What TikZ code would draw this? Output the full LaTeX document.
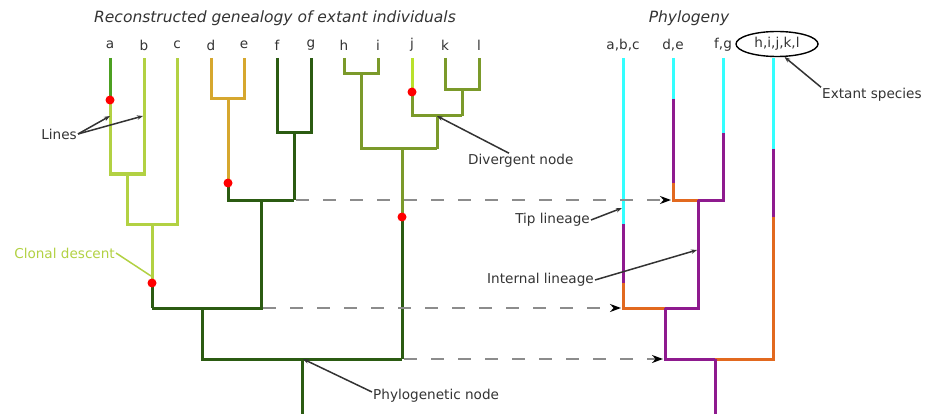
\documentclass[tikz,border=0pt]{standalone}
\usepackage{fontspec}
\setmainfont{DejaVu Sans}
\usepackage{xcolor}
\definecolor{tree-dark}{HTML}{2B5B12}
\definecolor{tree-mid}{HTML}{4CA021}
\definecolor{tree-light}{HTML}{B2D143}
\definecolor{tree-lime}{HTML}{B9E12C}
\definecolor{tree-gold}{HTML}{D6A72E}
\definecolor{tree-olive}{HTML}{7B9A2A}
\definecolor{phylo-cyan}{HTML}{33FFFF}
\definecolor{phylo-purple}{HTML}{8E1A8E}
\definecolor{phylo-orange}{HTML}{E2691F}
\definecolor{label-grey}{HTML}{333333}
\definecolor{guide-grey}{HTML}{8C8C8C}
\usepackage{tikz}
\usetikzlibrary{arrows.meta,shapes.geometric}

\begin{document}
\begin{tikzpicture}[x=1pt, y=-1pt,
    every node/.style={font=\fontsize{13.6}{16}\selectfont, text=label-grey, inner sep=1pt},
    branch/.style={line width=3pt, line join=miter},
    pointer/.style={line width=1.5pt, label-grey, -{Stealth[length=6pt, width=4.5pt]}},
    timeline/.style={guide-grey, line width=2pt, dash pattern=on 13pt off 14pt,
                     -{Stealth[length=11pt, width=8pt, black]}},
    mutation/.style={fill=red}]

    % Background
    \useasboundingbox (0, 0) rectangle (925, 414);

    % Titles
    \node[font=\fontsize{15.5}{18}\selectfont\itshape] (gentitle) at (275, 18) {Reconstructed genealogy of extant individuals};
    \node[font=\fontsize{15.5}{18}\selectfont\itshape] (phytitle) at (689, 18) {Phylogeny};

    % Individuals
    \foreach \name/\x in {a/110, b/144, c/177, d/211, e/244, f/277, g/311, h/344, i/378, j/412, k/445, l/479}
        \node (tip-\name) at (\x, 45) {\name};

    % a, b, c
    \draw[branch, tree-mid] (110, 58) -- (110, 100);
    \draw[branch, tree-light] (110, 100) -- (110, 174) -- (144, 174) -- (144, 58);
    \draw[branch, tree-light] (127, 174) -- (127, 224) -- (177, 224) -- (177, 58);
    \draw[branch, tree-light] (152, 224) -- (152, 283);
    \draw[branch, tree-dark] (152, 283) -- (152, 308);

    % d, e, f, g
    \draw[branch, tree-gold] (211, 58) -- (211, 99) -- (244, 99) -- (244, 58);
    \draw[branch, tree-gold] (228, 99) -- (228, 183);
    \draw[branch, tree-dark] (228, 183) -- (228, 200) -- (294, 200);
    \draw[branch, tree-dark] (277, 58) -- (277, 133) -- (311, 133) -- (311, 58);
    \draw[branch, tree-dark] (294, 133) -- (294, 200);
    \draw[branch, tree-dark] (261, 200) -- (261, 308) -- (152, 308);

    % h, i, j, k, l
    \draw[branch, tree-olive] (344, 58) -- (344, 74) -- (378, 74) -- (378, 58);
    \draw[branch, tree-olive] (361, 74) -- (361, 149) -- (437, 149);
    \draw[branch, tree-lime] (412, 58) -- (412, 92);
    \draw[branch, tree-olive] (412, 92) -- (412, 116) -- (462, 116);
    \draw[branch, tree-olive] (445, 58) -- (445, 90) -- (479, 90) -- (479, 58);
    \draw[branch, tree-olive] (462, 90) -- (462, 116);
    \draw[branch, tree-olive] (437, 116) -- (437, 149);
    \draw[branch, tree-olive] (402, 149) -- (402, 217);
    \draw[branch, tree-dark] (402, 217) -- (402, 359);

    % root of the genealogy
    \draw[branch, tree-dark] (202, 308) -- (202, 359) -- (402, 359);
    \draw[branch, tree-dark] (302, 359) -- (302, 414);

    % mutations
    \foreach \x/\y in {110/100, 228/183, 152/283, 412/92, 402/217}
        \fill[mutation] (\x, \y) circle[radius=4.5pt];

    % Species
    \node (sp-abc) at (623, 45) {a,b,c};
    \node (sp-de) at (673, 45) {d,e};
    \node (sp-fg) at (723, 45) {f,g};
    \node[draw, ellipse, line width=1.4pt, minimum width=82pt, minimum height=25pt] (sp-hl) at (777, 44) {h,i,j,k,l};

    % tip lineages
    \draw[branch, phylo-cyan] (623, 58) -- (623, 224);
    \draw[branch, phylo-purple] (623, 224) -- (623, 283);
    \draw[branch, phylo-orange] (623, 283) -- (623, 308) -- (665, 308);
    \draw[branch, phylo-cyan] (673, 58) -- (673, 99);
    \draw[branch, phylo-purple] (673, 99) -- (673, 183);
    \draw[branch, phylo-orange] (673, 183) -- (673, 200) -- (698, 200);
    \draw[branch, phylo-cyan] (723, 58) -- (723, 133);
    \draw[branch, phylo-purple] (723, 133) -- (723, 200) -- (698, 200);
    \draw[branch, phylo-cyan] (773, 58) -- (773, 149);
    \draw[branch, phylo-purple] (773, 149) -- (773, 217);
    \draw[branch, phylo-orange] (773, 217) -- (773, 359) -- (715, 359);

    % internal lineages
    \draw[branch, phylo-purple] (698, 200) -- (698, 308) -- (665, 308);
    \draw[branch, phylo-purple] (665, 308) -- (665, 359) -- (715, 359);
    \draw[branch, phylo-purple] (715, 359) -- (715, 414);

    % Speciation times
    \coordinate (gen-dg) at (296, 200);
    \coordinate (gen-ag) at (263, 308);
    \coordinate (gen-root) at (404, 359);
    \coordinate (phy-dg) at (671, 200);
    \coordinate (phy-ag) at (621, 308);
    \coordinate (phy-root) at (663, 359);
    \draw[timeline] (gen-dg) -- (phy-dg);
    \draw[timeline] (gen-ag) -- (phy-ag);
    \draw[timeline] (gen-root) -- (phy-root);

    % Annotations
    \coordinate (line-a) at (110, 116);
    \coordinate (line-b) at (143, 116);
    \coordinate (clonal) at (151, 276);
    \coordinate (divergent) at (437, 116);
    \coordinate (tip-lin) at (622, 208);
    \coordinate (int-lin) at (697, 250);
    \coordinate (phylo-node) at (303, 359);

    \node[anchor=east] (lines) at (78, 134) {Lines};
    \draw[pointer] (lines.east) -- (line-a);
    \draw[pointer] (lines.east) -- (line-b);

    \node[anchor=east, text=tree-light] (clonal-txt) at (116, 253) {Clonal descent};
    \draw[line width=1.5pt, tree-light] (clonal-txt.east) -- (clonal);

    \node[anchor=west] (divergent-txt) at (467, 161) {Divergent node};
    \draw[pointer] (divergent-txt.north west) ++(42, 0) -- (divergent);

    \node[anchor=east] (tip-txt) at (591, 220) {Tip lineage};
    \draw[pointer] (tip-txt.east) -- (tip-lin);

    \node[anchor=east] (int-txt) at (595, 280) {Internal lineage};
    \draw[pointer] (int-txt.east) -- (int-lin);

    \node[anchor=west] (phylo-txt) at (372, 396) {Phylogenetic node};
    \draw[pointer] (phylo-txt.west) ++(0, -4) -- (phylo-node);

    \node[anchor=west] (extant-txt) at (821, 95) {Extant species};
    \draw[pointer] (extant-txt.north west) -- (sp-hl.-60);

\end{tikzpicture}
\end{document}
